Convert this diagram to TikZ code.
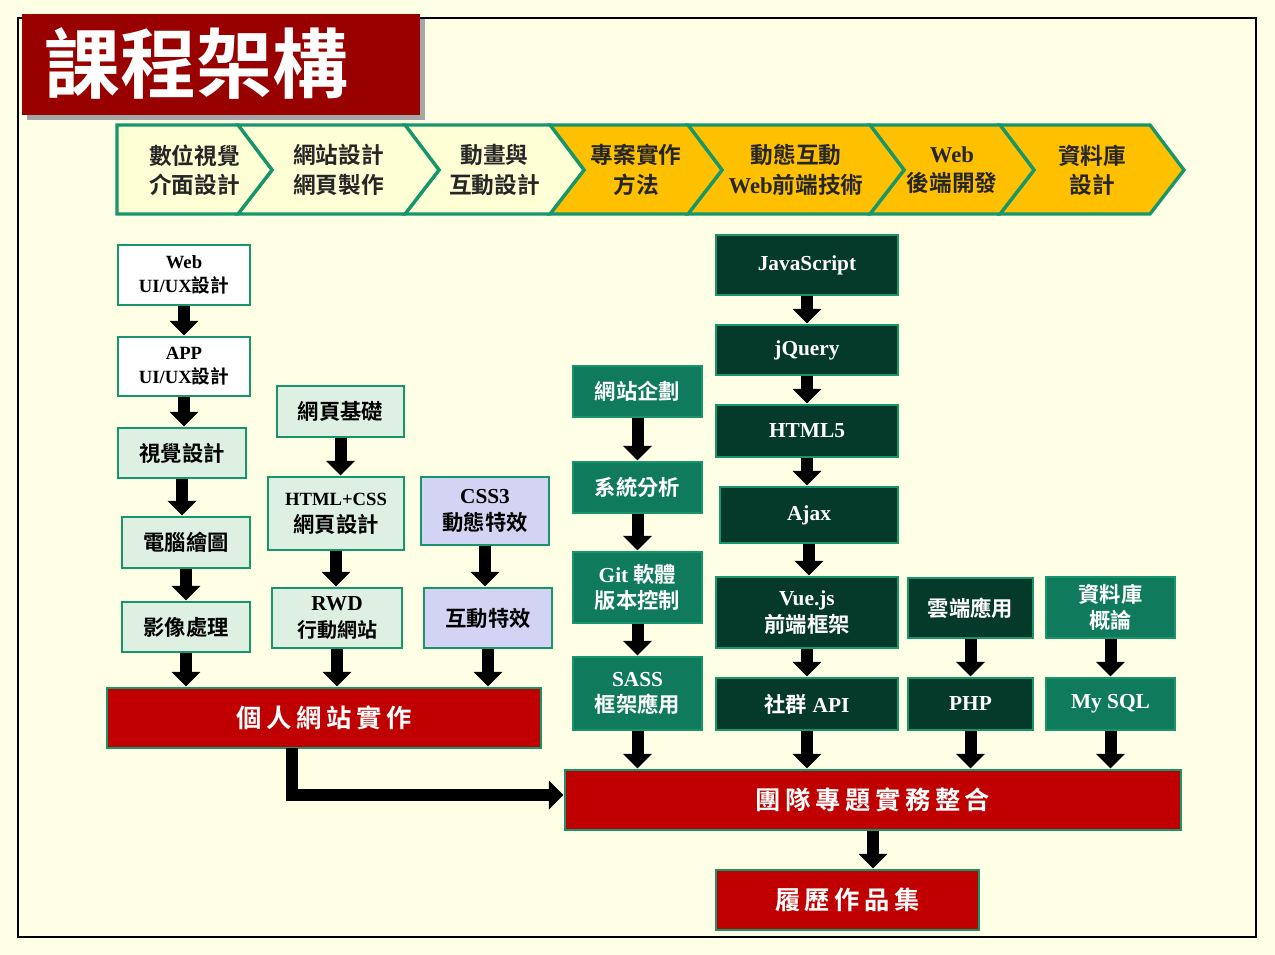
\documentclass[tikz,border=0pt]{standalone}
\usepackage{fontspec}
\setmainfont{Liberation Serif}
\newfontfamily\cjk{Noto Sans CJK TC}[BoldFont={* Bold}]
\newfontfamily\cjksp{Noto Sans CJK TC}[BoldFont={* Bold},LetterSpace=18]
\usetikzlibrary{arrows.meta,shadows}
\definecolor{bg}{HTML}{FFFFE6}
\definecolor{bd}{HTML}{17966C}
\definecolor{dkg}{HTML}{053A2A}
\definecolor{mdg}{HTML}{0F7A5C}
\definecolor{lg}{HTML}{DDF0E2}
\definecolor{lav}{HTML}{D3D3F3}
\definecolor{rd}{HTML}{C00000}
\definecolor{ttl}{HTML}{990000}
\definecolor{lyel}{HTML}{FFFFD5}
\definecolor{oyel}{HTML}{FFC000}
\newcommand\bx[7]{\pgfmathsetmacro\cx{(#2+#4)/2}\pgfmathsetmacro\cy{(#3+#5)/2}\pgfmathsetmacro\ww{(#4-#2)*0.75}\pgfmathsetmacro\hh{(#5-#3)*0.75}\node[#6,minimum width=\ww pt,minimum height=\hh pt] (#1) at (\cx,\cy) {#7};}
\newcommand\chev[5]{\fill[#3,draw=bd,line width=2.5pt,line join=miter] (#1,125) -- (#2,125) -- (#2+34,170) -- (#2,214) -- (#1,214) #5 -- cycle;
\node[align=center,font=\bfseries\fontsize{17}{22}\selectfont,text=black!85] at ({(#1+#2)/2+17},170) {#4};}
\begin{document}
\begin{tikzpicture}[x=0.75pt,y=-0.75pt,
 bxs/.style={draw=bd,line width=2.2pt,inner sep=0pt,align=center,font=\bfseries\fontsize{16}{20}\selectfont},
 wb/.style={bxs,fill=white,font=\bfseries\fontsize{14}{18}\selectfont},
 lgb/.style={bxs,fill=lg},
 lvb/.style={bxs,fill=lav},
 mgb/.style={bxs,fill=mdg,text=white},
 dgb/.style={bxs,fill=dkg,text=white},
 rdb/.style={bxs,fill=rd,text=white,font=\bfseries\fontsize{19}{23}\selectfont},
 arr/.style={line width=9pt,-{Triangle[width=21pt,length=11pt]}}]
\useasboundingbox (0,0) rectangle (1275,955);
\fill[bg] (0,0) rectangle (1275,955);
\draw[line width=1.8pt] (18,18) rectangle (1256,937);
% title
\fill[gray!70] (27,19) rectangle (425,120);
\fill[ttl] (22,14) rectangle (420,115);
\node[text=white] (title) at (197,64) {\cjk\bfseries\fontsize{57}{60}\selectfont 課程架構};
% chevrons
\chev{1000}{1150}{oyel}{\cjk 資料庫\\\cjk 設計}{-- (1034,170)}
\chev{870}{1000}{oyel}{Web\\\cjk 後端開發}{-- (904,170)}
\chev{688}{870}{oyel}{\cjk 動態互動\\Web{\cjk 前端技術}}{-- (722,170)}
\chev{550}{688}{oyel}{\cjk 專案實作\\\cjk 方法}{-- (584,170)}
\chev{405}{550}{lyel}{\cjk 動畫與\\\cjk 互動設計}{-- (439,170)}
\chev{238}{405}{lyel}{\cjk 網站設計\\\cjk 網頁製作}{-- (272,170)}
\chev{117}{238}{lyel}{\cjk 數位視覺\\\cjk 介面設計}{}
% col1
\bx{c1}{118}{245}{250}{305}{wb}{Web\\UI/UX{\cjk 設計}}
\bx{c2}{118}{337}{250}{396}{wb}{APP\\UI/UX{\cjk 設計}}
\bx{c3}{118}{428}{246}{478}{lgb}{\cjk 視覺設計}
\bx{c4}{122}{517}{250}{568}{lgb}{\cjk 電腦繪圖}
\bx{c5}{122}{602}{250}{652}{lgb}{\cjk 影像處理}
% col2
\bx{d1}{277}{386}{404}{437}{lgb}{\cjk 網頁基礎}
\bx{d2}{268}{477}{404}{550}{lgb}{{\fontsize{14}{18}\selectfont HTML+CSS}\\\cjk 網頁設計}
\bx{d3}{272}{588}{402}{648}{lgb}{RWD\\{\cjk\fontsize{15}{19}\selectfont 行動網站}}
% col3
\bx{e1}{421}{477}{549}{545}{lvb}{CSS3\\\cjk 動態特效}
\bx{e2}{424}{588}{552}{648}{lvb}{\cjk 互動特效}
\bx{p}{107}{688}{541}{748}{rdb}{\cjksp 個人網站實作}
% col4
\bx{f1}{573}{366}{702}{417}{mgb}{\cjk 網站企劃}
\bx{f2}{573}{462}{702}{513}{mgb}{\cjk 系統分析}
\bx{f3}{573}{552}{702}{623}{mgb}{Git {\cjk 軟體}\\\cjk 版本控制}
\bx{f4}{573}{657}{702}{730}{mgb}{SASS\\\cjk 框架應用}
% col5
\bx{g1}{716}{235}{898}{295}{dgb}{JavaScript}
\bx{g2}{716}{325}{898}{375}{dgb}{jQuery}
\bx{g3}{716}{405}{898}{457}{dgb}{HTML5}
\bx{g4}{720}{487}{898}{543}{dgb}{Ajax}
\bx{g5}{716}{577}{898}{648}{dgb}{Vue.js\\\cjk 前端框架}
\bx{g6}{716}{678}{898}{730}{dgb}{{\cjk 社群} API}
% col6/7
\bx{h1}{908}{578}{1033}{638}{dgb}{\cjk 雲端應用}
\bx{h2}{908}{678}{1033}{730}{dgb}{PHP}
\bx{k1}{1046}{577}{1175}{638}{mgb}{\cjk 資料庫\\\cjk 概論}
\bx{k2}{1046}{678}{1175}{730}{mgb}{My SQL}
\bx{t}{565}{770}{1181}{830}{rdb}{\cjksp 團隊專題實務整合}
\bx{r}{716}{870}{979}{930}{rdb}{\cjksp 履歷作品集}
% arrows
\foreach \a/\b in {c1/c2,c2/c3,c3/c4,c4/c5,c5/p,d1/d2,d2/d3,d3/p,e1/e2,e2/p,f1/f2,f2/f3,f3/f4,f4/t,g1/g2,g2/g3,g3/g4,g4/g5,g5/g6,g6/t,h1/h2,h2/t,k1/k2,k2/t,t/r}
  \draw[arr] (\a.south) -- (\a.south |- \b.north);
\coordinate (pb) at (292,748);
\draw[arr] (pb) |- (t.west |- 0,795);
\end{tikzpicture}
\end{document}
